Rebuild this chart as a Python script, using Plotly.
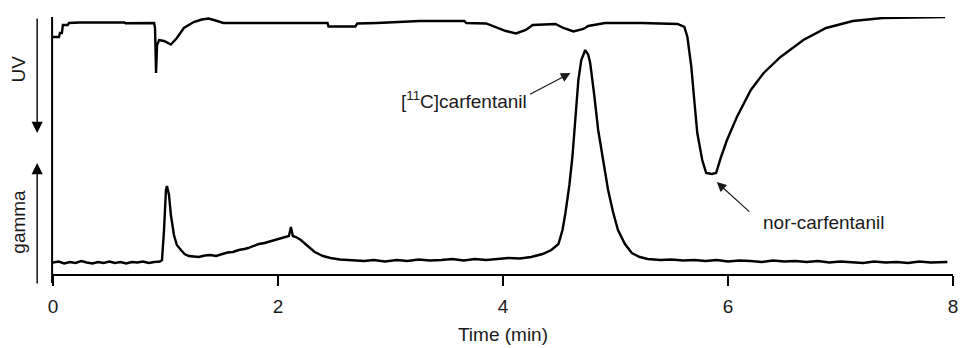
import plotly.graph_objects as go

# ---------------- data (time in min, signal in arbitrary units) ----------------
uv_time = [0.000, 0.053, 0.062, 0.079, 0.088, 0.132, 0.141, 0.238, 0.635, 0.645,
           0.899, 0.907, 0.916, 0.925, 0.943, 0.987, 1.048, 1.101, 1.163, 1.251,
           1.322, 1.383, 1.445, 1.515, 2.440, 2.449, 2.687, 2.705, 2.881, 3.260,
           3.656, 3.674, 3.850, 3.938, 4.026, 4.115, 4.203, 4.264, 4.467, 4.537,
           4.626, 4.714, 4.758, 4.907, 5.233, 5.551, 5.612, 5.639, 5.674, 5.700,
           5.727, 5.771, 5.806, 5.855, 5.894, 5.938, 5.991, 6.079, 6.203, 6.317,
           6.467, 6.670, 6.872, 7.110, 7.374, 7.930]
uv_signal = [237, 237, 241, 241, 249, 249, 251, 251.5, 251.5, 250.7,
             251, 246, 201, 229, 234, 233, 229.5, 236, 246, 252,
             254.5, 255.5, 253.5, 251, 251, 247.5, 247.5, 250.5, 251, 253,
             253, 251, 250.5, 247, 243, 240.5, 244, 249, 250, 246,
             242.5, 245, 248, 251, 251, 250, 247, 237, 207, 174,
             141, 114, 101, 100, 101, 117, 134, 157, 184, 201,
             217, 234, 246, 253, 256, 257]

gamma_time = [0.00, 0.05, 0.10, 0.15, 0.20, 0.25, 0.30, 0.35, 0.40, 0.45,
              0.50, 0.55, 0.60, 0.65, 0.70, 0.75, 0.80, 0.85, 0.90, 0.95,
              0.969, 0.987, 1.004, 1.013, 1.031, 1.048, 1.075, 1.101, 1.137, 1.170,
              1.207, 1.250, 1.295, 1.350, 1.400, 1.450, 1.498, 1.550, 1.600, 1.650,
              1.700, 1.736, 1.780, 1.830, 1.880, 1.938, 1.990, 2.030, 2.062, 2.097,
              2.115, 2.132, 2.160, 2.203, 2.264, 2.326, 2.400, 2.467, 2.550, 2.650,
              2.767, 2.850, 2.950, 3.057, 3.150, 3.250, 3.350, 3.450, 3.550, 3.650,
              3.750, 3.850, 3.938, 4.050, 4.150, 4.250, 4.352, 4.430, 4.493, 4.529,
              4.555, 4.590, 4.617, 4.643, 4.670, 4.696, 4.731, 4.758, 4.775, 4.811,
              4.846, 4.890, 4.934, 4.978, 5.022, 5.084, 5.145, 5.216, 5.286, 5.400,
              5.500, 5.600, 5.700, 5.800, 5.900, 6.000, 6.100, 6.200, 6.300, 6.400,
              6.500, 6.600, 6.700, 6.800, 6.900, 7.000, 7.100, 7.200, 7.300, 7.400,
              7.500, 7.600, 7.700, 7.800, 7.950]
gamma_signal = [11.5, 12.5, 10.5, 12, 11, 13, 11.5, 10.5, 12, 11,
                12.5, 11, 12, 10.5, 12, 11.5, 12.5, 11, 12, 12.5,
                14, 44, 84, 88, 79, 59, 39, 29, 24, 20,
                18, 17.5, 17, 18.5, 19, 18, 20, 21.5, 22, 24,
                25, 26, 28, 30, 31, 33, 35, 36, 37, 38,
                47, 38, 37, 34, 28, 22, 18, 16, 14.5, 13.5,
                13, 14, 12.5, 14, 13, 14.5, 13.5, 14, 15, 13.5,
                15, 14, 15, 16, 15.5, 17, 20, 24, 30, 44,
                61, 89, 117, 154, 194, 214, 224, 219, 211, 179,
                144, 114, 84, 62, 44, 30, 21, 17, 15, 14,
                14.5, 13.5, 14, 13, 14, 12.5, 13.5, 13, 12, 13.5,
                12.5, 13, 12, 13, 11.5, 12.5, 12, 11, 12.5, 11.5,
                12, 11, 12.5, 11.5, 12]

x_ticks = [0, 2, 4, 6, 8]
x_title = "Time (min)"
label_uv = "UV"
label_gamma = "gamma"
peak_labels = ["[<sup>11</sup>C]carfentanil", "nor-carfentanil"]

FONT = "Liberation Sans, Arial, sans-serif"
FS = 19
TXT = "#1a1a1a"

fig = go.Figure()
fig.add_trace(go.Scatter(x=uv_time, y=uv_signal, mode="lines",
                         line=dict(color="black", width=2.4), hoverinfo="skip"))
fig.add_trace(go.Scatter(x=gamma_time, y=gamma_signal, mode="lines",
                         line=dict(color="black", width=2.4), hoverinfo="skip"))

# vertical axis line (extends a bit below the time axis)
fig.add_shape(type="line", xref="paper", yref="paper", x0=-0.001, x1=-0.001,
              y0=-0.035, y1=1.0, line=dict(color="black", width=2))

# UV / gamma direction arrows
fig.add_annotation(xref="paper", yref="paper", x=-0.0176, y=0.549, ax=0, ay=-116,
                   text="", showarrow=True, arrowhead=2, arrowsize=1.6,
                   arrowwidth=1.4, arrowcolor="black")
fig.add_annotation(xref="paper", yref="paper", x=-0.0176, y=0.432, ax=0, ay=122,
                   text="", showarrow=True, arrowhead=2, arrowsize=1.6,
                   arrowwidth=1.4, arrowcolor="black")
fig.add_annotation(xref="paper", yref="paper", x=-0.0385, y=0.797, text=label_uv,
                   showarrow=False, textangle=-90, xanchor="center", yanchor="middle",
                   font=dict(size=FS, family=FONT, color=TXT))
fig.add_annotation(xref="paper", yref="paper", x=-0.0385, y=0.205, text=label_gamma,
                   showarrow=False, textangle=-90, xanchor="center", yanchor="middle",
                   font=dict(size=FS, family=FONT, color=TXT))

# peak labels
fig.add_annotation(x=4.60, y=201, ax=-42, ay=22, text="", showarrow=True,
                   arrowhead=2, arrowsize=1.6, arrowwidth=1.2, arrowcolor=TXT)
fig.add_annotation(x=4.235, y=174, text=peak_labels[0], showarrow=False,
                   xanchor="right", yanchor="middle", font=dict(size=FS, family=FONT, color=TXT))
fig.add_annotation(x=5.90, y=92, ax=34, ay=31, text="", showarrow=True,
                   arrowhead=2, arrowsize=1.6, arrowwidth=1.2, arrowcolor=TXT)
fig.add_annotation(x=6.29, y=52, text=peak_labels[1], showarrow=False,
                   xanchor="left", yanchor="middle", font=dict(size=FS, family=FONT, color=TXT))

fig.update_layout(
    width=964, height=348,
    margin=dict(l=53, r=6, t=17, b=74),
    paper_bgcolor="white", plot_bgcolor="white",
    showlegend=False,
    font=dict(family=FONT, size=FS, color=TXT),
)
fig.update_xaxes(range=[0, 8], tickvals=x_ticks, showgrid=False, zeroline=False,
                 showline=True, linecolor="black", linewidth=2.4,
                 ticks="outside", ticklen=10, tickwidth=1.5, tickcolor="black",
                 ticklabelstandoff=4,
                 title=dict(text=x_title, standoff=12, font=dict(size=FS, family=FONT)),
                 tickfont=dict(size=FS, family=FONT))
fig.update_yaxes(range=[0, 257], showgrid=False, zeroline=False, showline=False,
                 showticklabels=False, ticks="")

fig.write_html("out.html")
